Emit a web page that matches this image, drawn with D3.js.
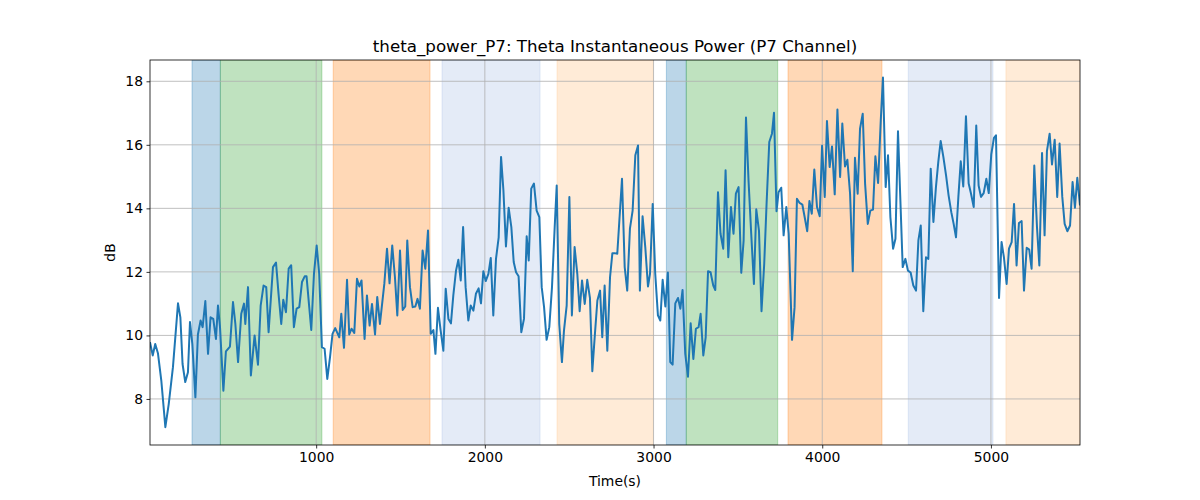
<!DOCTYPE html>
<html>
<head>
<meta charset="utf-8">
<script src="https://cdn.jsdelivr.net/npm/d3@7"></script>
<style>
  body { margin: 0; background: #fff; }
  svg text { font-family: "DejaVu Sans", sans-serif; fill: #000; }
</style>
</head>
<body>
<div id="chart"></div>
<script>
// time stamps (s) of the theta power series
const timeSec = [
  15, 31, 46, 62, 82, 106, 126, 151, 181, 195, 208, 224, 240, 252, 266, 284, 299, 315, 327, 343, 359, 374, 390, 406, 418, 430, 450, 465, 489, 507, 521, 537, 556, 572,
  580, 596, 613, 635, 655, 671, 688, 704, 718, 744, 762, 777, 793, 805, 821, 837, 852, 868, 884, 900, 916, 932, 943, 959, 971, 987, 1003, 1018, 1034, 1050, 1066, 1082, 1097, 1113,
  1137, 1149, 1165, 1183, 1196, 1210, 1226, 1242, 1256, 1269, 1287, 1301, 1317, 1331, 1349, 1362, 1378, 1404, 1420, 1435, 1451, 1467, 1481, 1497, 1513, 1528, 1540, 1556, 1572, 1588, 1601, 1615, 1631, 1647, 1663, 1679,
  1695, 1707, 1722, 1738, 1754, 1768, 1784, 1799, 1813, 1829, 1843, 1857, 1871, 1886, 1902, 1916, 1932, 1947, 1963, 1977, 1991, 2005, 2021, 2035, 2050, 2066, 2082, 2096, 2110, 2125, 2141, 2157, 2171, 2185, 2200, 2216, 2232,
  2248, 2260, 2275, 2291, 2307, 2323, 2337, 2351, 2366, 2382, 2398, 2414, 2426, 2441, 2457, 2469, 2485, 2501, 2516, 2532, 2548, 2562, 2576, 2592, 2607, 2623, 2637, 2651, 2667, 2683, 2696, 2710, 2726, 2742, 2756, 2769, 2785,
  2813, 2829, 2844, 2860, 2876, 2892, 2908, 2919, 2935, 2951, 2967, 2979, 2995, 3010, 3026, 3040, 3054, 3070, 3085, 3099, 3113, 3129, 3145, 3159, 3172, 3188, 3204, 3220, 3236, 3251, 3267, 3279, 3295, 3309, 3323, 3338, 3354,
  3366, 3382, 3397, 3413, 3427, 3443, 3459, 3474, 3488, 3504, 3520, 3534, 3548, 3563, 3579, 3595, 3609, 3625, 3640, 3656, 3670, 3686, 3702, 3714, 3729, 3741, 3757, 3771, 3787, 3801, 3821, 3836, 3850, 3866, 3882, 3896, 3911,
  3924, 3938, 3953, 3969, 3985, 3999, 4015, 4028, 4044, 4058, 4074, 4090, 4106, 4119, 4135, 4149, 4165, 4181, 4194, 4210, 4224, 4240, 4254, 4270, 4285, 4301, 4315, 4331, 4347, 4360, 4376, 4390, 4404, 4420, 4434, 4449,
  4477, 4493, 4508, 4524, 4540, 4556, 4570, 4584, 4599, 4615, 4629, 4643, 4659, 4674, 4688, 4702, 4718, 4734, 4749, 4765, 4779, 4793, 4807, 4821, 4836, 4852, 4868, 4882, 4898, 4913, 4927, 4941, 4957, 4973, 4987, 5002, 5018, 5030,
  5048, 5063, 5077, 5093, 5107, 5123, 5137, 5152, 5166, 5182, 5196, 5212, 5227, 5241, 5257, 5273, 5287, 5303, 5318, 5332, 5348, 5362, 5378, 5393, 5407, 5423, 5437, 5453, 5469, 5484, 5498, 5512, 5528
];

// theta power values (dB)
const powerDb = [
  9.79, 9.37, 9.73, 9.44, 8.58, 7.11, 7.84, 9.00, 11.01, 10.57, 9.10, 8.53, 8.84, 10.42, 9.73, 8.05, 10.03, 10.47, 10.26, 11.08, 9.42, 10.57, 10.52, 9.89, 10.94, 10.26, 8.26, 9.50, 9.65, 11.05, 10.36, 9.16, 10.68, 11.00,
  10.36, 11.52, 8.74, 10.00, 9.08, 10.94, 11.57, 11.52, 10.10, 12.15, 12.29, 11.31, 10.36, 11.12, 10.73, 12.10, 12.21, 10.26, 10.84, 10.89, 11.68, 11.86, 11.86, 10.89, 10.17, 11.94, 12.83, 11.94, 9.63, 9.58, 8.63, 9.31, 10.05, 10.23,
  9.94, 10.68, 9.61, 11.75, 10.03, 10.21, 10.08, 11.78, 11.54, 11.73, 9.89, 11.26, 10.31, 10.99, 10.03, 11.21, 10.36, 11.62, 12.73, 11.64, 12.83, 11.83, 10.63, 12.67, 10.80, 10.91, 12.99, 11.52, 10.89, 10.91, 11.15, 10.84, 12.67, 12.10, 13.30, 10.05,
  10.17, 9.42, 10.87, 10.15, 9.52, 11.47, 10.52, 10.38, 11.26, 12.04, 12.38, 11.73, 13.41, 11.52, 10.47, 10.94, 10.78, 11.31, 11.48, 11.01, 12.02, 11.71, 11.94, 12.44, 10.63, 12.41, 13.09, 15.62, 14.57, 12.80, 14.02, 13.41, 12.31, 11.99, 11.86, 10.10, 10.52,
  13.12, 12.36, 14.62, 14.78, 13.93, 13.72, 11.52, 10.89, 9.86, 10.26, 11.52, 13.41, 14.72, 10.36, 9.16, 10.15, 10.94, 14.36, 10.63, 12.78, 11.94, 10.76, 11.73, 10.99, 11.75, 11.18, 8.87, 9.94, 11.10, 11.41, 9.94, 11.57, 9.52, 11.83, 12.59, 12.59, 12.57,
  14.93, 12.15, 11.41, 13.36, 13.93, 15.67, 15.98, 11.41, 13.75, 12.78, 11.54, 11.94, 14.14, 11.94, 10.63, 10.47, 11.75, 10.91, 11.98, 9.16, 9.08, 11.01, 11.18, 10.84, 11.43, 9.42, 8.70, 10.38, 9.26, 10.21, 10.26, 10.68, 9.37, 9.94, 12.02, 11.99, 11.57,
  11.43, 14.51, 13.20, 12.73, 15.20, 12.46, 14.04, 13.20, 14.46, 14.67, 11.97, 12.99, 16.86, 14.88, 13.20, 11.62, 13.97, 13.30, 10.76, 12.25, 14.14, 16.09, 16.35, 17.01, 13.91, 14.51, 14.65, 13.15, 14.04, 13.20, 9.86, 10.89, 14.30, 14.17, 14.12, 13.72, 13.28,
  14.23, 13.83, 15.22, 14.04, 13.75, 15.97, 14.36, 16.75, 15.30, 15.95, 14.44, 17.11, 14.99, 16.67, 15.32, 15.53, 14.46, 12.02, 15.59, 14.46, 16.51, 16.98, 14.78, 13.51, 13.93, 13.96, 15.64, 14.80, 16.77, 18.12, 14.67, 15.67, 13.72, 12.73, 13.04, 16.43,
  12.15, 12.41, 12.04, 11.98, 11.57, 11.41, 12.99, 13.46, 10.76, 12.46, 12.41, 15.25, 13.57, 14.67, 15.46, 16.12, 15.62, 15.04, 14.41, 13.88, 13.51, 13.09, 14.36, 15.48, 14.69, 16.90, 14.78, 14.46, 14.04, 16.61, 14.72, 14.36, 14.48, 14.93, 14.48, 15.70, 16.22, 16.30,
  11.18, 12.94, 12.46, 11.62, 12.73, 12.94, 14.14, 12.20, 13.54, 13.60, 11.41, 12.76, 12.70, 12.10, 15.35, 13.41, 12.20, 15.74, 13.15, 15.80, 16.35, 15.38, 16.16, 14.36, 16.04, 14.36, 13.51, 13.28, 13.46, 14.83, 14.02, 14.96, 14.09
];

// shaded segments: start / end time and kind
const spanStart = [264, 432, 1101, 1746, 2428, 3076, 3194, 3797, 4510, 5089];
const spanEnd   = [432, 1034, 1675, 2327, 2998, 3194, 3736, 4354, 5012, 5528];
const spanKind  = ["blue", "green", "orange", "lightblue", "peach", "blue", "green", "orange", "lightblue", "peach"];

const xTicks = [1000, 2000, 3000, 4000, 5000];
const yTicks = [8, 10, 12, 14, 16, 18];

const W = 1200, H = 500;
const margin = { left: 150, right: 120, top: 60, bottom: 55 };
const plotW = W - margin.left - margin.right;
const plotH = H - margin.top - margin.bottom;

// fill colour + alpha per kind (matplotlib tab colours)
const spanStyle = {
  blue:      { color: "#1f77b4", alpha: 0.3 },
  green:     { color: "#2ca02c", alpha: 0.3 },
  orange:    { color: "#ff7f0e", alpha: 0.3 },
  lightblue: { color: "#a4bee6", alpha: 0.3 },
  peach:     { color: "#ffcc9c", alpha: 0.4 }
};

const xScale = d3.scaleLinear().domain([15, 5528]).range([0, plotW]);
const yScale = d3.scaleLinear().domain([6.55, 18.67]).range([plotH, 0]);

const svg = d3.select("#chart").append("svg")
    .attr("width", W)
    .attr("height", H);

const group = svg.append("g")
    .attr("transform", `translate(${margin.left}, ${margin.top})`);

group.append("clipPath").attr("id", "clip")
  .append("rect").attr("width", plotW).attr("height", plotH);

// spans
group.append("g").attr("clip-path", "url(#clip)")
  .selectAll("rect")
  .data(spanStart.map((s, i) => ({ s, e: spanEnd[i], kind: spanKind[i] })))
  .enter()
  .append("rect")
    .attr("x", d => xScale(d.s))
    .attr("y", 0)
    .attr("width", d => xScale(d.e) - xScale(d.s))
    .attr("height", plotH)
    .attr("fill", d => spanStyle[d.kind].color)
    .attr("fill-opacity", d => spanStyle[d.kind].alpha)
    .attr("stroke", d => spanStyle[d.kind].color)
    .attr("stroke-opacity", d => spanStyle[d.kind].alpha)
    .attr("stroke-width", 1);

// grid
group.append("g")
  .selectAll("line")
  .data(xTicks)
  .enter().append("line")
    .attr("x1", d => xScale(d)).attr("x2", d => xScale(d))
    .attr("y1", 0).attr("y2", plotH)
    .attr("stroke", "#b0b0b0").attr("stroke-width", 0.8);

group.append("g")
  .selectAll("line")
  .data(yTicks)
  .enter().append("line")
    .attr("x1", 0).attr("x2", plotW)
    .attr("y1", d => yScale(d)).attr("y2", d => yScale(d))
    .attr("stroke", "#b0b0b0").attr("stroke-width", 0.8);

// power line
const line = d3.line()
    .x((d, i) => xScale(timeSec[i]))
    .y(d => yScale(d));

group.append("path")
  .datum(powerDb)
  .attr("clip-path", "url(#clip)")
  .attr("fill", "none")
  .attr("stroke", "#1f77b4")
  .attr("stroke-width", 2)
  .attr("stroke-linejoin", "round")
  .attr("d", line);

// frame
group.append("rect")
  .attr("width", plotW).attr("height", plotH)
  .attr("fill", "none").attr("stroke", "#000").attr("stroke-width", 0.8);

// x-axis
const xAxis = group.append("g")
  .attr("transform", `translate(0, ${plotH})`)
  .call(d3.axisBottom(xScale).tickValues(xTicks).tickSize(3.5).tickPadding(3.5).tickFormat(d3.format("d")));
xAxis.select(".domain").remove();
xAxis.selectAll("text").style("font-size", "13.9px").attr("fill", "#000");
xAxis.selectAll("line").attr("stroke", "#000").attr("stroke-width", 0.8);

// y-axis
const yAxis = group.append("g")
  .call(d3.axisLeft(yScale).tickValues(yTicks).tickSize(3.5).tickPadding(3.5));
yAxis.select(".domain").remove();
yAxis.selectAll("text").style("font-size", "13.9px").attr("fill", "#000");
yAxis.selectAll("line").attr("stroke", "#000").attr("stroke-width", 0.8);

// labels
svg.append("text")
  .attr("x", margin.left + plotW / 2)
  .attr("y", 52)
  .attr("text-anchor", "middle")
  .style("font-size", "16.7px")
  .text("theta_power_P7: Theta Instantaneous Power (P7 Channel)");

svg.append("text")
  .attr("x", margin.left + plotW / 2)
  .attr("y", 486)
  .attr("text-anchor", "middle")
  .style("font-size", "13.9px")
  .text("Time(s)");

svg.append("text")
  .attr("transform", `translate(115, ${margin.top + plotH / 2}) rotate(-90)`)
  .attr("text-anchor", "middle")
  .style("font-size", "13.9px")
  .text("dB");
</script>
</body>
</html>
